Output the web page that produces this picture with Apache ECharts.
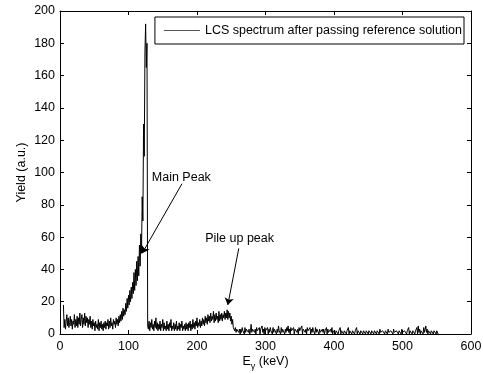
<!DOCTYPE html>
<html>
<head>
<meta charset="utf-8">
<script src="https://cdn.jsdelivr.net/npm/echarts@6/dist/echarts.min.js"></script>
<style>
html,body{margin:0;padding:0;background:#fff;}
#chart{width:483px;height:374px;}
</style>
</head>
<body>
<div id="chart"></div>
<script>
// spectrum, 1 keV bins starting at 5 keV
var binStart = 5;
var binWidth = 1;
var yields = [
	18, 4, 9, 3, 8, 12, 5, 10, 4, 7, 11, 5, 9, 3, 8, 6, 12, 4, 9, 5,
	11, 4, 10, 6, 13, 5, 9, 12, 4, 10, 6, 13, 5, 11, 7, 10, 4, 9, 6, 11,
	4, 8, 3, 9, 5, 7, 2, 8, 4, 6, 3, 9, 2, 7, 4, 8, 3, 6, 2, 7,
	4, 8, 3, 7, 5, 9, 3, 8, 4, 10, 5, 7, 3, 9, 6, 8, 4, 10, 6, 9,
	5, 11, 7, 12, 8, 14, 9, 16, 11, 15, 12, 19, 14, 22, 16, 24, 18, 27, 20, 29,
	22, 32, 25, 38, 27, 40, 30, 45, 33, 48, 36, 55, 42, 62, 50, 85, 70, 130, 110, 175,
	192, 165, 180, 5, 3, 8, 2, 7, 4, 9, 3, 6, 2, 8, 4, 10, 3, 7, 2, 6,
	3, 8, 2, 6, 4, 9, 2, 7, 3, 5, 2, 8, 3, 6, 2, 7, 4, 9, 2, 5,
	3, 7, 2, 6, 3, 8, 2, 5, 3, 7, 2, 6, 4, 8, 2, 5, 3, 6, 2, 7,
	3, 6, 2, 7, 4, 8, 2, 6, 3, 9, 4, 7, 3, 8, 5, 10, 4, 7, 5, 9,
	4, 8, 5, 10, 6, 9, 5, 11, 7, 10, 6, 12, 8, 11, 7, 13, 8, 11, 9, 14,
	7, 12, 8, 13, 9, 11, 7, 14, 8, 12, 9, 13, 8, 12, 10, 14, 9, 13, 10, 15,
	9, 14, 10, 13, 8, 11, 6, 9, 4, 5, 2, 4, 1, 3, 2, 4, 1, 3, 0, 3,
	1, 4, 2, 3, 0, 4, 1, 3, 2, 4, 1, 3, 0, 2, 6, 1, 3, 2, 4, 1,
	3, 0, 4, 2, 3, 1, 4, 0, 3, 2, 5, 1, 3, 0, 4, 2, 3, 1, 4, 0,
	3, 1, 4, 2, 3, 0, 4, 1, 3, 2, 4, 0, 3, 1, 5, 2, 3, 0, 4, 1,
	3, 2, 4, 0, 3, 1, 4, 2, 5, 1, 3, 0, 4, 2, 3, 1, 4, 0, 3, 2,
	4, 1, 3, 0, 4, 2, 3, 1, 5, 0, 3, 2, 4, 1, 3, 0, 4, 2, 3, 1,
	4, 0, 3, 1, 4, 2, 3, 0, 4, 1, 3, 2, 4, 0, 3, 1, 2, 0, 3, 1,
	3, 0, 2, 1, 4, 0, 3, 1, 2, 0, 3, 1, 4, 0, 2, 1, 3, 0, 2, 1,
	3, 0, 2, 1, 4, 0, 2, 1, 3, 0, 2, 1, 3, 0, 2, 1, 4, 0, 2, 1,
	3, 0, 2, 1, 3, 0, 2, 1, 4, 0, 2, 1, 3, 0, 2, 1, 3, 0, 2, 1,
	3, 0, 2, 1, 3, 0, 2, 1, 3, 0, 2, 1, 3, 0, 2, 1, 3, 0, 2, 1,
	2, 0, 3, 1, 2, 0, 2, 1, 3, 0, 2, 1, 2, 0, 3, 1, 2, 0, 2, 1,
	2, 0, 3, 1, 2, 0, 2, 1, 3, 0, 2, 1, 2, 0, 3, 1, 2, 0, 2, 1,
	3, 0, 2, 1, 4, 0, 2, 1, 3, 0, 2, 1, 3, 0, 2, 1, 4, 0, 5, 1,
	3, 0, 2, 1, 3, 0, 4, 1, 2, 5, 1, 3, 0, 2, 1, 3, 0, 2, 1, 3,
	0, 2, 1, 3, 0, 2, 1, 0
];
var xTicks = [0, 100, 200, 300, 400, 500, 600];
var yTicks = [0, 20, 40, 60, 80, 100, 120, 140, 160, 180, 200];
var seriesName = 'LCS spectrum after passing reference solution';

// annotations: label, label anchor, arrow tail, arrow head (data units)
var annoNames = ['Main Peak', 'Pile up peak'];
var annoText = [[134, 97], [212, 59]];
var annoFrom = [[178, 93], [261, 53]];
var annoTo = [[120, 50], [245, 18]];

var points = [];
for (var i = 0; i < yields.length; i++) {
	points.push([binStart + i * binWidth, yields[i]]);
}

var font = 'Liberation Sans, Arial, Helvetica, sans-serif';
var fs = 12.5;

function axisBase(pos, isX, showLabel) {
	var ticks = isX ? xTicks : yTicks;
	return {
		type: 'value',
		position: pos,
		min: ticks[0],
		max: ticks[ticks.length - 1],
		interval: ticks[1] - ticks[0],
		nameMoveOverlap: false,
		axisLine: { show: true, onZero: false, lineStyle: { color: '#000', width: 1 } },
		axisTick: { show: true, inside: true, length: 4, lineStyle: { color: '#000' } },
		axisLabel: { show: showLabel, color: '#000', fontFamily: font, fontSize: fs, margin: isX ? 6 : 5 },
		splitLine: { show: false }
	};
}

var xBottom = axisBase('bottom', true, true);
xBottom.name = '{n|E}{s|γ}{n| (keV)}';
xBottom.nameLocation = 'middle';
xBottom.nameGap = 19;
xBottom.nameTextStyle = {
	color: '#000', fontFamily: font, fontSize: fs,
	rich: {
		n: { fontFamily: font, fontSize: fs, color: '#000' },
		s: { fontFamily: font, fontSize: 9, color: '#000', padding: [9, 0, 0, 0] }
	}
};
var xTop = axisBase('top', true, false);

var yLeft = axisBase('left', false, true);
yLeft.name = 'Yield (a.u.)';
yLeft.nameLocation = 'middle';
yLeft.nameGap = 32;
yLeft.nameTextStyle = { color: '#000', fontFamily: font, fontSize: fs };
var yRight = axisBase('right', false, false);

var arrowLines = [];
var textPoints = [];
for (var k = 0; k < annoNames.length; k++) {
	arrowLines.push([{ coord: annoFrom[k] }, { coord: annoTo[k] }]);
	textPoints.push({ coord: annoText[k], value: annoNames[k] });
}

var chart = echarts.init(document.getElementById('chart'), null, { renderer: 'canvas' });
chart.setOption({
	backgroundColor: '#fff',
	animation: false,
	grid: { left: 60, right: 12, top: 11, bottom: 40, containLabel: false, outerBoundsMode: 'none' },
	legend: {
		show: true,
		right: 19,
		top: 17,
		orient: 'horizontal',
		backgroundColor: '#fff',
		borderColor: '#000',
		borderWidth: 1,
		borderRadius: 0,
		padding: [7, 2, 7, 9],
		icon: 'rect',
		itemWidth: 36,
		itemHeight: 1,
		itemGap: 0,
		itemStyle: { color: '#555' },
		textStyle: { color: '#000', fontFamily: font, fontSize: fs },
		data: [seriesName]
	},
	xAxis: [xBottom, xTop],
	yAxis: [yLeft, yRight],
	series: [{
		name: seriesName,
		type: 'line',
		xAxisIndex: 0,
		yAxisIndex: 0,
		data: points,
		symbol: 'none',
		showSymbol: false,
		lineStyle: { color: '#000', width: 1 },
		itemStyle: { color: '#000' },
		markLine: {
			silent: true,
			symbol: ['none', 'arrow'],
			symbolSize: 7,
			label: { show: false },
			lineStyle: { color: '#000', width: 1, type: 'solid' },
			data: arrowLines
		},
		markPoint: {
			silent: true,
			symbol: 'circle',
			symbolSize: 0,
			label: {
				show: true,
				position: 'right',
				distance: 0,
				color: '#000',
				fontFamily: font,
				fontSize: fs,
				formatter: function (p) { return p.value; }
			},
			data: textPoints
		}
	}]
});
</script>
</body>
</html>
